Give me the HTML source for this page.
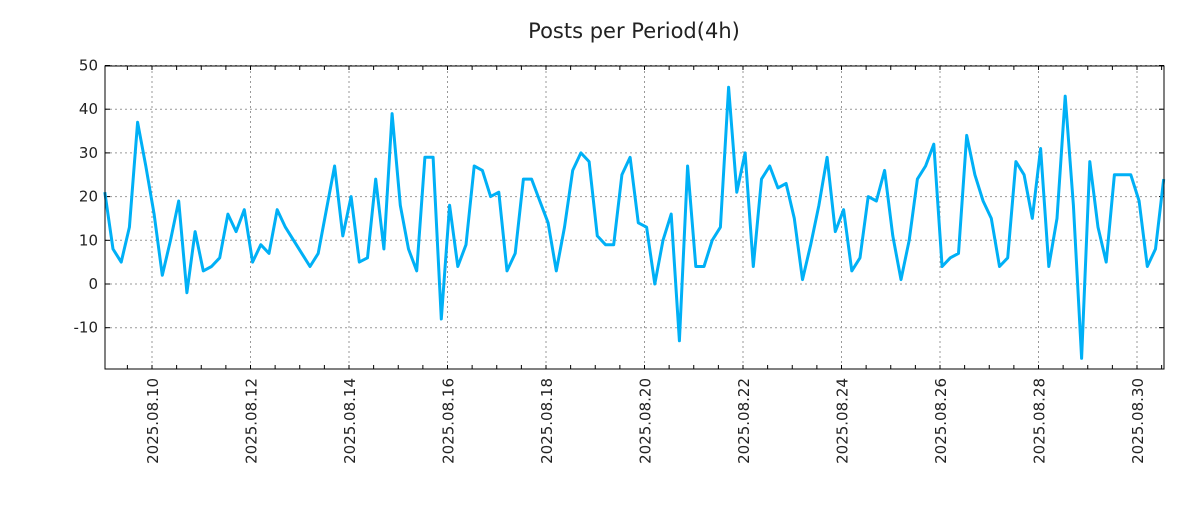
<!DOCTYPE html>
<html><head><meta charset="utf-8"><style>
body{margin:0;background:#fff;}
svg text{font-family:"DejaVu Sans","Liberation Sans",sans-serif;fill:#222;}
</style></head><body>
<svg id="chart" width="1200" height="500" xmlns="http://www.w3.org/2000/svg">
<text x="634" y="38" font-size="21" text-anchor="middle">Posts per Period(4h)</text>
<g id="grid"></g><g id="axes"></g>
<polyline id="line" fill="none" stroke="#00b0f6" stroke-width="3" stroke-linejoin="round"/>
<rect x="105" y="66" width="1059" height="303" fill="none" stroke="#000" stroke-width="1"/>
</svg>
<script>
const values = [21,8,5,13,37,27,16,2,10,19,-2,12,3,4,6,16,12,17,5,9,7,17,13,10,7,4,7,17,27,11,20,5,6,24,8,39,18,8,3,29,29,-8,18,4,9,27,26,20,21,3,7,24,24,19,14,3,13,26,30,28,11,9,9,25,29,14,13,0,10,16,-13,27,4,4,10,13,45,21,30,4,24,27,22,23,15,1,9,18,29,12,17,3,6,20,19,26,11,1,10,24,27,32,4,6,7,34,25,19,15,4,6,28,25,15,31,4,15,43,18,-17,28,13,5,25,25,25,19,4,8,24];
const startHoursFromAug10 = -23;
const stepHours = 4;
const yTicks = [-10,0,10,20,30,40,50];
const xTickLabels = ["2025.08.10","2025.08.12","2025.08.14","2025.08.16","2025.08.18","2025.08.20","2025.08.22","2025.08.24","2025.08.26","2025.08.28","2025.08.30"];
const xTickDays = [0,2,4,6,8,10,12,14,16,18,20];

const NS="http://www.w3.org/2000/svg";
const L=105,R=1164,T=66,B=369;
const xs=d=>152+d*49.25;
const ys=v=>284-v*4.37;
const grid=document.getElementById('grid'), axes=document.getElementById('axes');
function mk(tag,attrs,parent){const e=document.createElementNS(NS,tag);for(const k in attrs)e.setAttribute(k,attrs[k]);parent.appendChild(e);return e;}
yTicks.forEach(v=>{
  const y=ys(v);
  const g=mk('line',{x1:L,x2:R,y1:y,y2:y,stroke:'#999','stroke-dasharray':'2,3'},grid);
  
  
  mk('line',{x1:L,x2:L+5,y1:y,y2:y,stroke:'#000'},axes);
  mk('line',{x1:R,x2:R-5,y1:y,y2:y,stroke:'#000'},axes);
  const t=mk('text',{x:L-7,y:y+5,'font-size':15,'text-anchor':'end'},axes);
  t.textContent=v;
  
  
});
for(let h=-0.5;h<=21;h+=0.5){
  const x=xs(h); if(x<L||x>R)continue;
  mk('line',{x1:x,x2:x,y1:B,y2:B-4,stroke:'#000'},axes);
  mk('line',{x1:x,x2:x,y1:T,y2:T+4,stroke:'#000'},axes);
}
xTickDays.forEach((d,i)=>{
  const x=xs(d);
  const g=mk('line',{x1:x,x2:x,y1:T,y2:B,stroke:'#999','stroke-dasharray':'2,3'},grid);
  
  
  const t=mk('text',{x:0,y:0,'font-size':15,'text-anchor':'end',transform:`translate(${x+6},378) rotate(-90)`},axes);
  t.textContent=xTickLabels[i];
  
  
});
document.getElementById('line').setAttribute('points',values.map((v,i)=>{
  const d=(startHoursFromAug10+i*stepHours)/24;
  return xs(d).toFixed(1)+','+ys(v).toFixed(1);
}).join(' '));
</script>
</body></html>
